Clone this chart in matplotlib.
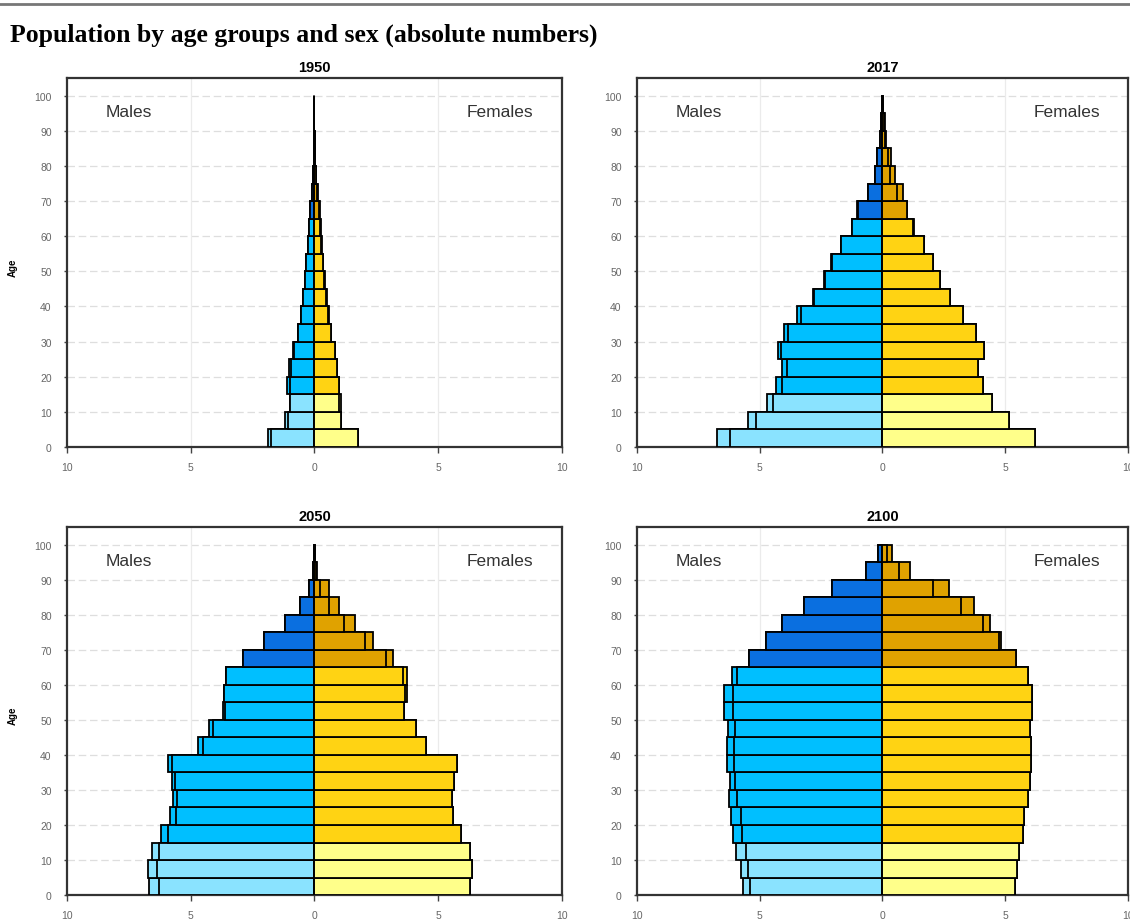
import numpy as np
import matplotlib
matplotlib.use('Agg')
import matplotlib.pyplot as plt
from matplotlib.lines import Line2D

plt.rcParams['font.family'] = ['Liberation Sans', 'DejaVu Sans']

# Age groups 0-4 ... 95-99 (lower bound of each group)
ages = np.arange(0, 100, 5)

# Population by sex (axis units)
males_1950 = [1.86, 1.19, 0.98, 1.12, 1.01, 0.85, 0.67, 0.54, 0.48, 0.40,
              0.34, 0.27, 0.24, 0.18, 0.11, 0.07, 0.02, 0.005, 0.0, 0.0]
females_1950 = [1.76, 1.06, 1.06, 1.00, 0.93, 0.84, 0.67, 0.59, 0.50, 0.43,
                0.36, 0.30, 0.27, 0.23, 0.13, 0.05, 0.02, 0.005, 0.0, 0.0]

males_2017 = [6.73, 5.47, 4.72, 4.35, 4.11, 4.25, 4.02, 3.48, 2.85, 2.39,
              2.08, 1.70, 1.26, 1.03, 0.60, 0.30, 0.24, 0.11, 0.05, 0.02]
females_2017 = [6.23, 5.15, 4.46, 4.09, 3.90, 4.15, 3.83, 3.30, 2.77, 2.36,
                2.06, 1.68, 1.28, 1.01, 0.82, 0.50, 0.33, 0.16, 0.10, 0.03]

males_2050 = [6.68, 6.73, 6.57, 6.20, 5.83, 5.70, 5.76, 5.90, 4.69, 4.26,
              3.68, 3.66, 3.56, 2.87, 2.06, 1.19, 0.58, 0.22, 0.06, 0.02]
females_2050 = [6.29, 6.35, 6.29, 5.92, 5.60, 5.54, 5.62, 5.74, 4.50, 4.10,
                3.62, 3.72, 3.74, 3.18, 2.37, 1.63, 1.01, 0.58, 0.12, 0.04]

males_2100 = [5.70, 5.77, 5.95, 6.08, 6.15, 6.25, 6.22, 6.33, 6.33, 6.29,
              6.46, 6.46, 6.11, 5.43, 4.75, 4.09, 3.20, 2.05, 0.66, 0.18]
females_2100 = [5.39, 5.48, 5.55, 5.71, 5.78, 5.93, 6.00, 6.03, 6.03, 6.02,
                6.09, 6.10, 5.94, 5.42, 4.83, 4.39, 3.71, 2.69, 1.13, 0.38]

years = ['1950', '2017', '2050', '2100']
males = [males_1950, males_2017, males_2050, males_2100]
females = [females_1950, females_2017, females_2050, females_2100]

# colours for 0-14, 15-64, 65+
male_cols = ['#8ae3ff', '#00bfff', '#0a6fe0']
female_cols = ['#ffff8a', '#ffd313', '#e0a200']


def group_colours(cols):
    return [cols[0] if a < 15 else cols[1] if a < 65 else cols[2] for a in ages]


positions = [[0.0593, 0.513, 0.438, 0.401],
             [0.5637, 0.513, 0.4345, 0.401],
             [0.0593, 0.026, 0.438, 0.400],
             [0.5637, 0.026, 0.4345, 0.400]]

fig = plt.figure(figsize=(11.3, 9.2), dpi=100)
fig.add_artist(Line2D([0, 1], [0.9945, 0.9945], color='#777777', lw=2,
                      transform=fig.transFigure))
fig.text(0.009, 0.962, 'Population by age groups and sex (absolute numbers)',
         family='Liberation Serif', fontsize=18.5, fontweight='bold', va='center')

mc = group_colours(male_cols)
fc = group_colours(female_cols)

for i in range(4):
    ax = fig.add_axes(positions[i])
    m = np.array(males[i])
    f = np.array(females[i])
    low = np.minimum(m, f)
    kw = dict(height=5, align='edge', edgecolor='black', linewidth=1.3, zorder=3)
    # full bars, then the part shared with the other sex drawn over it
    ax.barh(ages, -m, color=mc, **kw)
    ax.barh(ages, -low, color=mc, **kw)
    ax.barh(ages, f, color=fc, **kw)
    ax.barh(ages, low, color=fc, **kw)
    ax.plot([0, 0], [0, 100], color='black', lw=1.1, zorder=4)

    ax.set_xlim(-10, 10)
    ax.set_ylim(0, 105)
    ax.set_xticks([-10, -5, 0, 5, 10])
    ax.set_xticklabels(['10', '5', '0', '5', '10'])
    ax.set_yticks(range(0, 101, 10))
    ax.tick_params(labelsize=7.5, labelcolor='#666666', color='#444444',
                   length=4, width=1)
    ax.tick_params(axis='y', length=2, pad=9)
    ax.tick_params(axis='x', pad=7)
    for s in ax.spines.values():
        s.set_color('#333333')
        s.set_linewidth(1.6)
    for y in range(10, 101, 10):
        ax.axhline(y, color='#dedede', lw=0.9, ls=(0, (6, 3)), zorder=1)
    for x in (-5, 5):
        ax.axvline(x, color='#ebebeb', lw=0.9, zorder=1)

    ax.set_title(years[i], fontsize=10.5, fontweight='bold', pad=5)
    ax.text(-7.5, 95.5, 'Males', fontsize=12.5, color='#333333',
            ha='center', va='center')
    ax.text(7.5, 95.5, 'Females', fontsize=12.5, color='#333333',
            ha='center', va='center')
    if i % 2 == 0:
        ax.set_ylabel('Age', fontsize=7, fontweight='bold')
        ax.yaxis.set_label_coords(-0.099, 0.49)

fig.savefig('out.png', dpi=100)
